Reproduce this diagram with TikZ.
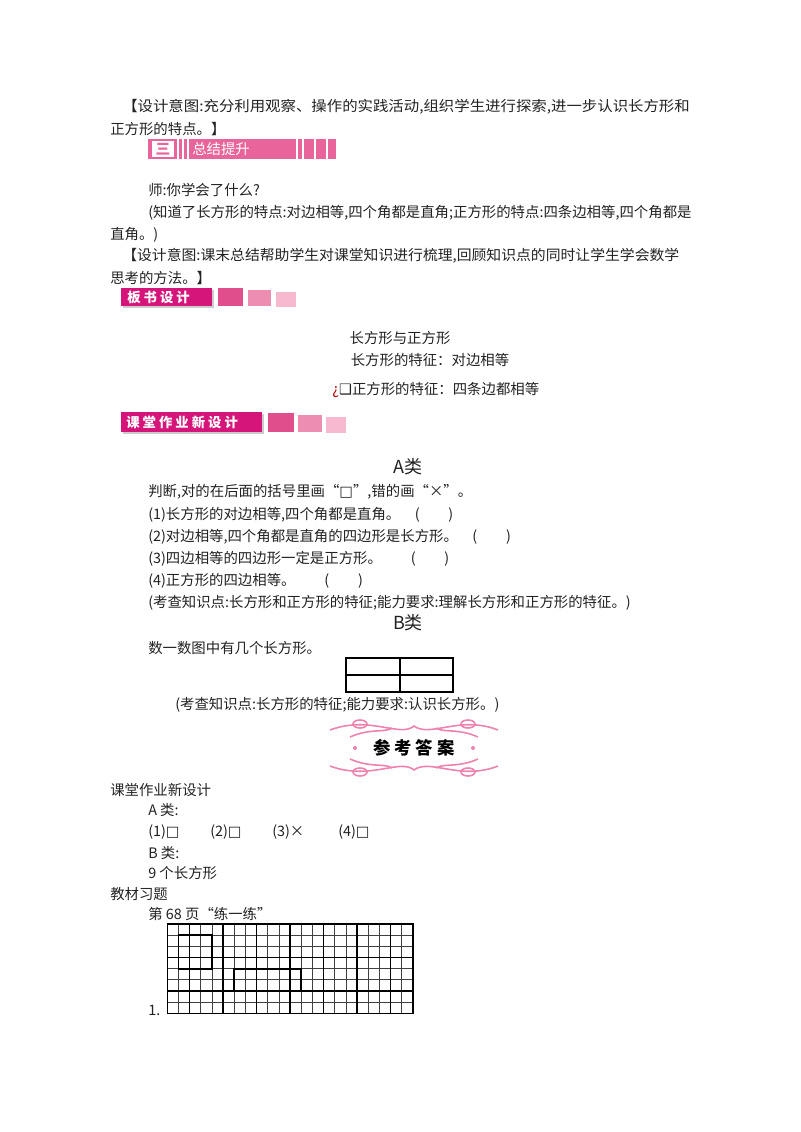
\documentclass[tikz,border=0pt]{standalone}
\usepackage{fontspec}
\usepackage{graphicx}
\setmainfont{Noto Sans CJK SC}
\newfontfamily\symf{DejaVu Sans}
\definecolor{pk}{HTML}{E8649A}
\definecolor{mg}{HTML}{D6157A}
\definecolor{sq1}{HTML}{E04E8C}
\definecolor{sq2}{HTML}{EE8DB2}
\definecolor{sq3}{HTML}{F6B9D0}
\definecolor{tx}{HTML}{222222}
\begin{document}
\begin{tikzpicture}[x=0.75pt,y=-0.75pt,
  txt/.style={anchor=west,inner sep=0pt,font=\fontsize{10.8pt}{12pt}\selectfont,text=tx},
  ctr/.style={txt,anchor=center}]
\useasboundingbox (0,0) rectangle (800,1132);
\node[txt] (t1) at (122,107) {\scalebox{1.07}[1]{【设计意图:充分利用观察、操作的实践活动,组织学生进行探索,进一步认识长方形和}};
\node[txt] (t2) at (110,129) {正方形的特点。】};
% banner 1
\fill[pk] (148,139) rectangle (336,159);
\fill[white] (152,141) rectangle (174,157);
\node[ctr,text=pk,font=\fontsize{11pt}{12pt}\selectfont\bfseries] (b1n) at (163,149) {三};
\foreach \x in {178,183,188,297,303,315,327}{\draw[white,line width=1pt] (\x,139) -- (\x,159);}
\node[txt,text=white] (b1) at (192,149) {总结提升};
\node[txt] (t3) at (148,190) {师:你学会了什么?};
\node[txt] (t4) at (148,213) {(知道了长方形的特点:对边相等,四个角都是直角;正方形的特点:四条边相等,四个角都是};
\node[txt] (t5) at (110,235) {直角。)};
\node[txt] (t6) at (122,256) {\scalebox{1.03}[1]{【设计意图:课末总结帮助学生对课堂知识进行梳理,回顾知识点的同时让学生学会数学}};
\node[txt] (t7) at (110,278) {思考的方法。】};
% banner 2
\fill[gray!40] (123,290) rectangle (214,308);
\fill[mg] (121,288) rectangle (212,306);
\node[txt,text=white,font=\fontsize{10pt}{11pt}\selectfont\bfseries] (b2) at (127,297) {板 书 设 计};
\fill[sq1] (218,288) rectangle (243,306);
\fill[sq2] (248,290) rectangle (271,306);
\fill[sq3] (276,292) rectangle (296,307);
\node[ctr] (bs1) at (400,338) {长方形与正方形};
\node[ctr] (bs2) at (430,360) {长方形的特征：对边相等};
\node[txt] (bs3) at (332,390) {\textcolor{red!70!black}{¿}{\symf ❑}正方形的特征：四条边都相等};
% banner 3
\fill[gray!40] (123,414) rectangle (264,434);
\fill[mg] (121,412) rectangle (262,432);
\node[txt,text=white,font=\fontsize{10pt}{11pt}\selectfont\bfseries] (b3) at (126,422) {课 堂 作 业 新 设 计};
\fill[sq1] (268,413) rectangle (294,432);
\fill[sq2] (298,415) rectangle (322,432);
\fill[sq3] (326,417) rectangle (346,433);
\node[ctr,font=\fontsize{13.5pt}{14pt}\selectfont] (A) at (408,467) {A类};
\node[txt] (a0) at (148,492) {判断,对的在后面的括号里画“{\symf □}”,错的画“×”。};
\node[txt] (a1) at (148,515) {(1)长方形的对边相等,四个角都是直角。\quad(\qquad)};
\node[txt] (a2) at (148,537) {(2)对边相等,四个角都是直角的四边形是长方形。\quad(\qquad)};
\node[txt] (a3) at (148,559) {(3)四边相等的四边形一定是正方形。\qquad(\qquad)};
\node[txt] (a4) at (148,581) {(4)正方形的四边相等。\qquad(\qquad)};
\node[txt] (a5) at (148,603) {(考查知识点:长方形和正方形的特征;能力要求:理解长方形和正方形的特征。)};
\node[ctr,font=\fontsize{13.5pt}{14pt}\selectfont] (B) at (408,623) {B类};
\node[txt] (bq) at (148,648) {数一数图中有几个长方形。};
\draw[line width=1pt] (346,658) rectangle (453,692) (346,675) -- (453,675) (400,658) -- (400,692);
\node[txt] (b5) at (175,705) {(考查知识点:长方形的特征;能力要求:认识长方形。)};
% decoration
\begin{scope}[pk!80,line width=1.2pt]
\draw (330,730) .. controls (370,715) and (400,738) .. (414,726) .. controls (430,738) and (460,715) .. (498,730);
\draw (350,737) .. controls (370,728) and (385,733) .. (392,728) (436,728) .. controls (443,733) and (458,728) .. (478,737);
\draw (360,724) circle (7 and 4) (468,724) circle (7 and 4);
\draw (330,766) .. controls (370,781) and (400,758) .. (414,770) .. controls (430,758) and (460,781) .. (498,766);
\draw (350,759) .. controls (370,768) and (385,763) .. (392,768) (436,768) .. controls (443,763) and (458,768) .. (478,759);
\draw (360,772) circle (7 and 4) (468,772) circle (7 and 4);
\fill (355,748) circle (2) (473,748) circle (2);
\end{scope}
\node[ctr,font=\fontsize{13pt}{14pt}\selectfont\bfseries,text=black] (ck) at (414,748) {参 考 答 案};
\node[txt] (c1) at (110,790) {课堂作业新设计};
\node[txt] (c2) at (148,810) {A 类:};
\node[txt] (c3) at (148,832) {(1){\symf □}};
\node[txt] (c4) at (210,832) {(2){\symf □}};
\node[txt] (c5) at (272,832) {(3)×};
\node[txt] (c6) at (338,832) {(4){\symf □}};
\node[txt] (c7) at (148,853) {B 类:};
\node[txt] (c8) at (148,873) {9 个长方形};
\node[txt] (c9) at (110,894) {教材习题};
\node[txt] (c10) at (148,914) {第 68 页“练一练”};
% grid
\begin{scope}[shift={(167.3,924)},x=8.375pt,y=-8.375pt]
\foreach \i in {0,...,22}{\draw[line width=0.6pt,black!75] (\i,0) -- (\i,8);}
\foreach \j in {0,...,8}{\draw[line width=0.6pt,black!75] (0,\j) -- (22,\j);}
\foreach \i in {2,5,...,20}{\draw[line width=1.1pt] (\i,0) -- (\i,8);}
\draw[line width=1.1pt] (0,0) rectangle (22,8) (0,3) -- (22,3) (0,6) -- (22,6);
\draw[line width=1.3pt] (1,1) rectangle (4,4) (6,4) rectangle (12,6);
\end{scope}
\node[txt] (one) at (148,1010) {1.};
\end{tikzpicture}
\end{document}
